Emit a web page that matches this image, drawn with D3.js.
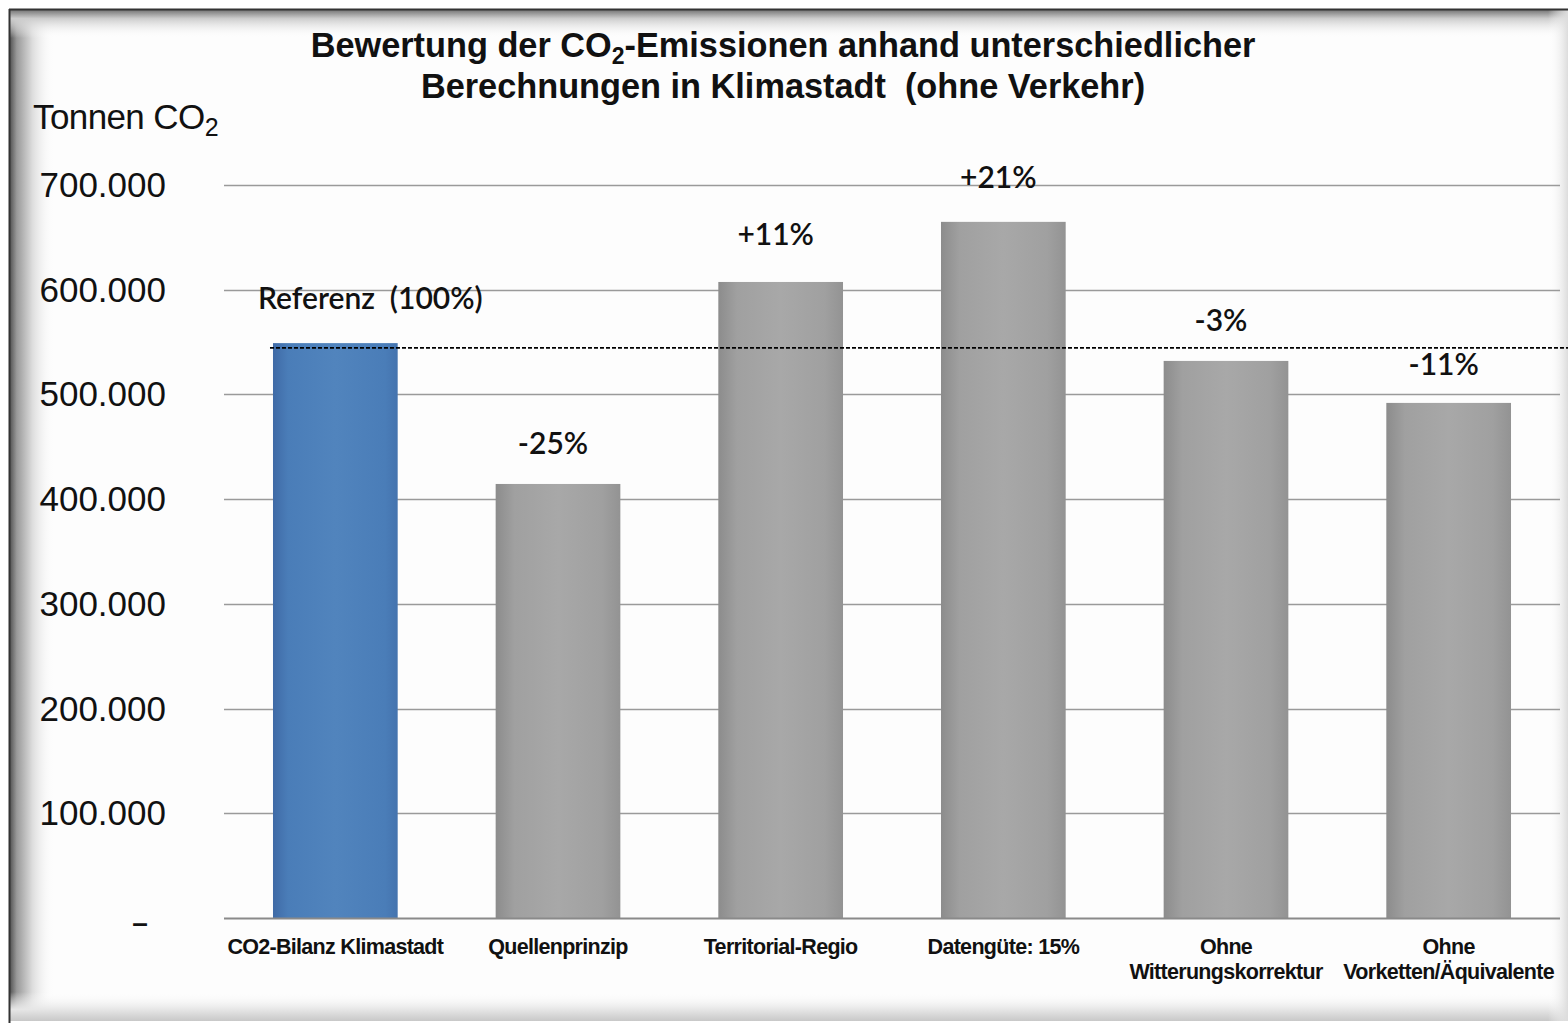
<!DOCTYPE html>
<html>
<head>
<meta charset="utf-8">
<script src="https://cdn.jsdelivr.net/npm/d3@7"></script>
<style>
  body { margin: 0; background: #fff; }
  svg { display: block; }
</style>
</head>
<body>
<script>
// chart data
var categories = ["CO2-Bilanz Klimastadt", "Quellenprinzip", "Territorial-Regio", "Datengüte: 15%", "Ohne\nWitterungskorrektur", "Ohne\nVorketten/Äquivalente"];
var values = [549000, 414500, 607400, 664800, 532000, 491900];
var changeLabels = ["Referenz  (100%)", "-25%", "+11%", "+21%", "-3%", "-11%"];
var referenceValue = 544500;
var yTicks = [0, 100000, 200000, 300000, 400000, 500000, 600000, 700000];
var yTickLabels = ["–", "100.000", "200.000", "300.000", "400.000", "500.000", "600.000", "700.000"];

var W = 1568, H = 1023;

var svg = d3.select("body")
	.append("svg")
	.attr("width", W)
	.attr("height", H);

var defs = svg.append("defs");

function hGrad(id, stops, x1, x2, y1, y2) {
	var g = defs.append("linearGradient").attr("id", id)
		.attr("x1", x1).attr("x2", x2).attr("y1", y1).attr("y2", y2);
	stops.forEach(function(s) {
		g.append("stop").attr("offset", s[0]).attr("stop-color", s[1]).attr("stop-opacity", s[2] == null ? 1 : s[2]);
	});
}

// bar gradients
hGrad("blueBar", [[0, "#3f6aa6"], [0.12, "#4a7db8"], [0.5, "#5184bd"], [0.9, "#4a7db8"], [1, "#4473ae"]], "0", "1", "0", "0");
hGrad("greyBar", [[0, "#8c8c8c"], [0.15, "#a0a0a0"], [0.5, "#a8a8a8"], [0.85, "#a0a0a0"], [1, "#939393"]], "0", "1", "0", "0");
// frame shadows
hGrad("shLeft", [[0, "#555", 1], [0.15, "#999", 1], [0.5, "#ddd", 1], [1, "#fff", 0]], "0", "1", "0", "0");
hGrad("shTop", [[0, "#777", 1], [0.3, "#ccc", 1], [1, "#fff", 0]], "0", "0", "0", "1");
hGrad("shBottom", [[0, "#fff", 0], [0.6, "#e6e6e6", 1], [1, "#c8c8c8", 1]], "0", "0", "0", "1");
hGrad("shRight", [[0, "#fff", 0], [1, "#dcdcdc", 1]], "0", "1", "0", "0");

// frame
svg.append("rect").attr("x", 9).attr("y", 9).attr("width", W).attr("height", 1012)
	.style("fill", "#fdfdfd");
svg.append("rect").attr("x", 10).attr("y", 10).attr("width", 45).attr("height", 1011).style("fill", "url(#shLeft)");
svg.append("rect").attr("x", 10).attr("y", 10).attr("width", W).attr("height", 28).style("fill", "url(#shTop)");
svg.append("rect").attr("x", 10).attr("y", 992).attr("width", W).attr("height", 29).style("fill", "url(#shBottom)");
svg.append("rect").attr("x", 1548).attr("y", 10).attr("width", 20).attr("height", 1011).style("fill", "url(#shRight)");
svg.append("line").attr("x1", 9.5).attr("x2", 9.5).attr("y1", 9).attr("y2", 1023)
	.style("stroke", "#333").style("stroke-width", 2);
svg.append("line").attr("x1", 9).attr("x2", W).attr("y1", 9.5).attr("y2", 9.5)
	.style("stroke", "#333").style("stroke-width", 2);

var margin = {left: 224, right: 8, top: 185, bottom: 105};

var x = d3.scaleBand()
	.domain(categories)
	.range([margin.left, W - margin.right])
	.paddingInner(0.44)
	.paddingOuter(0.22);

var y = d3.scaleLinear()
	.domain([0, 700000])
	.range([918, 185]);

// gridlines
svg.append("g").selectAll("line")
	.data(yTicks.filter(function(d) { return d > 0; }))
	.enter().append("line")
	.attr("x1", margin.left).attr("x2", W - 8)
	.attr("y1", function(d) { return Math.round(y(d)) + 0.5; })
	.attr("y2", function(d) { return Math.round(y(d)) + 0.5; })
	.style("stroke", "#9a9a9a").style("stroke-width", 1.3);

// y tick labels
svg.append("g").selectAll("text")
	.data(yTicks)
	.enter().append("text")
	.attr("x", function(d) { return d === 0 ? 140 : 166; })
	.attr("y", function(d) { return d === 0 ? y(d) + 14 : y(d) + 12; })
	.attr("text-anchor", function(d) { return d === 0 ? "middle" : "end"; })
	.style("font-family", "Liberation Sans, Arial, sans-serif")
	.style("font-size", function(d) { return d === 0 ? "28px" : "35px"; })
	.style("font-weight", function(d) { return d === 0 ? "bold" : "normal"; })
	.style("fill", "#111")
	.text(function(d, i) { return yTickLabels[i]; });

// y axis title
var yt = svg.append("text").attr("x", 33).attr("y", 129)
	.style("font-family", "Liberation Sans, Arial, sans-serif")
	.style("font-size", "35px").style("fill", "#111")
	.style("letter-spacing", "-0.6px");
yt.append("tspan").text("Tonnen CO");
yt.append("tspan").attr("dy", 7).style("font-size", "25px").text("2");

// bars
svg.append("g").selectAll("rect")
	.data(values)
	.enter().append("rect")
	.attr("x", function(d, i) { return x(categories[i]); })
	.attr("y", function(d) { return y(d); })
	.attr("width", x.bandwidth())
	.attr("height", function(d) { return y(0) - y(d); })
	.style("fill", function(d, i) { return i === 0 ? "url(#blueBar)" : "url(#greyBar)"; });

// baseline axis
svg.append("line")
	.attr("x1", margin.left).attr("x2", W - 8)
	.attr("y1", y(0) + 0.5).attr("y2", y(0) + 0.5)
	.style("stroke", "#8a8a8a").style("stroke-width", 2);

// reference dashed line
svg.append("line")
	.attr("x1", x(categories[0]) - 3).attr("x2", W)
	.attr("y1", y(referenceValue)).attr("y2", y(referenceValue))
	.style("stroke", "#000").style("stroke-width", 1.6)
	.style("stroke-dasharray", "4,2");

// change labels
var labelOffsets = [-34, -30, -37, -34, -30, -28];
svg.append("g").selectAll("text")
	.data(changeLabels)
	.enter().append("text")
	.attr("x", function(d, i) { return i === 0 ? 258 : x(categories[i]) + x.bandwidth() / 2 - 5; })
	.attr("y", function(d, i) { return y(values[i]) + labelOffsets[i]; })
	.attr("text-anchor", function(d, i) { return i === 0 ? "start" : "middle"; })
	.style("font-family", "Lato, Open Sans, sans-serif")
	.style("font-size", "30px")
	.style("font-weight", "600")
	.style("fill", "#111")
	.style("white-space", "pre")
	.attr("xml:space", "preserve")
	.text(function(d) { return d; });

// category labels
var xl = svg.append("g").selectAll("text")
	.data(categories)
	.enter().append("text")
	.attr("x", function(d) { return x(d) + x.bandwidth() / 2; })
	.attr("y", 954)
	.attr("text-anchor", "middle")
	.style("font-family", "Liberation Sans, Arial, sans-serif")
	.style("font-size", "21.5px")
	.style("font-weight", "bold")
	.style("letter-spacing", "-0.7px")
	.style("fill", "#111");
xl.each(function(d) {
	var el = d3.select(this);
	d.split("\n").forEach(function(part, j) {
		el.append("tspan")
			.attr("x", el.attr("x"))
			.attr("dy", j === 0 ? 0 : 25)
			.text(part);
	});
});

// title
var title = svg.append("text")
	.attr("x", 783).attr("y", 57)
	.attr("text-anchor", "middle")
	.style("font-family", "Liberation Sans, Arial, sans-serif")
	.style("font-size", "34.3px").style("font-weight", "bold").style("fill", "#111");
title.append("tspan").text("Bewertung der CO");
title.append("tspan").attr("dy", 7).style("font-size", "23px").text("2");
title.append("tspan").attr("dy", -7).text("-Emissionen anhand unterschiedlicher");

svg.append("text")
	.attr("x", 783).attr("y", 98)
	.attr("text-anchor", "middle")
	.attr("xml:space", "preserve")
	.style("font-family", "Liberation Sans, Arial, sans-serif")
	.style("font-size", "34.3px").style("font-weight", "bold").style("fill", "#111")
	.text("Berechnungen in Klimastadt  (ohne Verkehr)");
</script>
</body>
</html>
